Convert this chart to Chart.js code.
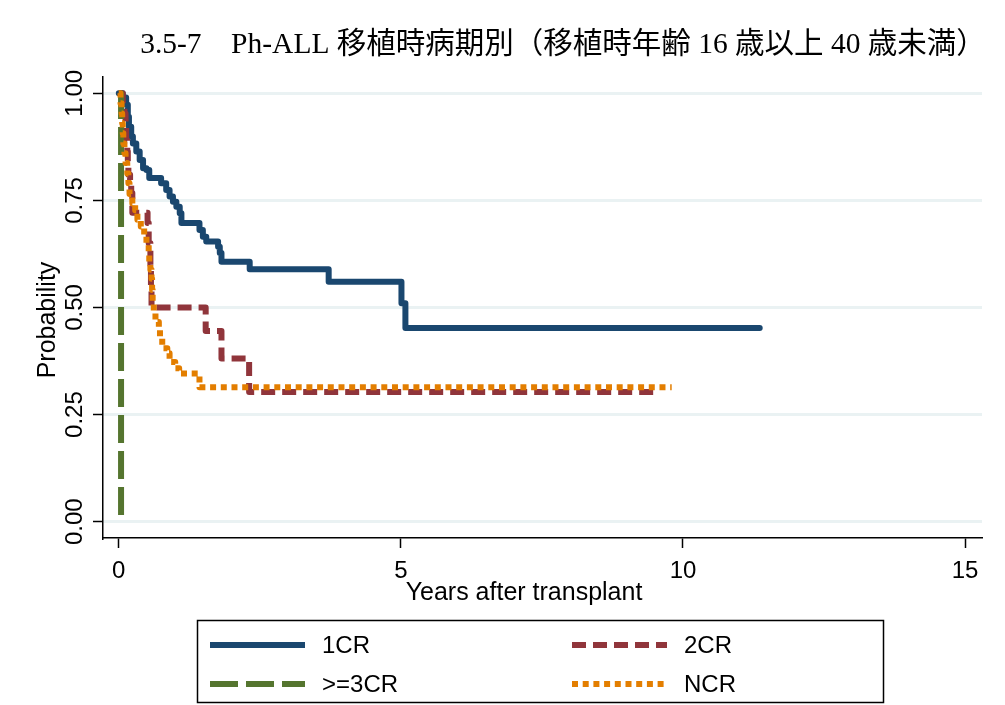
<!DOCTYPE html>
<html lang="ja">
<head>
  <meta charset="UTF-8" />
  <title>Ph-ALL 移植時病期別</title>
  <script src="https://cdn.jsdelivr.net/npm/chart.js"></script>
  <style>
    body {
      margin: 0;
      background: #fff;
    }
    #wrap {
      width: 1005px;
      height: 705px;
    }
  </style>
</head>
<body>
  <div id="wrap"><canvas id="km" width="1005" height="705"></canvas></div>

  <script>
    // axis ticks
    const xTicks = [0, 5, 10, 15];
    const yTicks = [0, 0.25, 0.5, 0.75, 1];
    const yTickLabels = ['0.00', '0.25', '0.50', '0.75', '1.00'];

    const seriesNames = ['1CR', '2CR', '>=3CR', 'NCR'];

    // Kaplan-Meier steps: time (years) and survival after each step
    const cr1Time = [0, 0.07, 0.13, 0.16, 0.18, 0.22, 0.25, 0.31, 0.37, 0.43, 0.49, 0.54, 0.75, 0.84, 0.90, 0.96, 1.02, 1.08, 1.11, 1.43, 1.49, 1.55, 1.76, 1.79, 1.82, 2.32, 3.72, 5.01, 5.08, 11.36];
    const cr1Surv = [1, 0.99, 0.973, 0.945, 0.922, 0.899, 0.883, 0.864, 0.844, 0.825, 0.821, 0.802, 0.79, 0.774, 0.759, 0.747, 0.735, 0.72, 0.697, 0.681, 0.665, 0.654, 0.642, 0.627, 0.607, 0.589, 0.56, 0.51, 0.452, 0.452];

    const cr2Time = [0, 0.07, 0.10, 0.12, 0.13, 0.15, 0.16, 0.17, 0.20, 0.22, 0.24, 0.51, 0.53, 0.56, 0.57, 0.58, 1.54, 1.82, 2.31, 9.54];
    const cr2Surv = [1, 0.977, 0.953, 0.93, 0.89, 0.864, 0.84, 0.81, 0.79, 0.767, 0.721, 0.697, 0.65, 0.6, 0.55, 0.5, 0.445, 0.381, 0.303, 0.303];

    const cr3Time = [0, 0.04];
    const cr3Surv = [1, 0];

    const ncrTime = [0, 0.03, 0.05, 0.06, 0.07, 0.08, 0.10, 0.12, 0.15, 0.17, 0.19, 0.24, 0.29, 0.33, 0.39, 0.45, 0.49, 0.53, 0.54, 0.56, 0.58, 0.59, 0.60, 0.62, 0.65, 0.71, 0.73, 0.77, 0.86, 0.90, 1.00, 1.07, 1.43, 9.80];
    const ncrSurv = [1, 0.977, 0.953, 0.93, 0.907, 0.883, 0.86, 0.837, 0.813, 0.79, 0.765, 0.743, 0.727, 0.705, 0.689, 0.666, 0.646, 0.628, 0.607, 0.588, 0.567, 0.541, 0.514, 0.49, 0.466, 0.449, 0.428, 0.405, 0.393, 0.373, 0.358, 0.346, 0.314, 0.314];

    const colors = ['#1a476f', '#90353b', '#55752f', '#e37e00'];
    const dashes = [[], [14, 7], [28, 8], [6, 4.7]];

    const sans = '"Liberation Sans", Arial, sans-serif';

    function toPoints(t, s) {
      return t.map((v, i) => ({ x: v, y: s[i] }));
    }

    const curves = [
      toPoints(cr1Time, cr1Surv),
      toPoints(cr2Time, cr2Surv),
      toPoints(cr3Time, cr3Surv),
      toPoints(ncrTime, ncrSurv)
    ];

    // 'before' keeps the previous level until the event time, then drops
    const datasets = curves.map((pts, i) => ({
      label: seriesNames[i],
      data: pts,
      borderColor: colors[i],
      borderWidth: 6,
      borderDash: dashes[i],
      borderCapStyle: i === 0 ? 'round' : 'butt',
      borderJoinStyle: 'round',
      stepped: 'before',
      pointRadius: 0,
      fill: false,
      order: 4 - i
    }));

    // title, rotated y labels, axis titles and the boxed legend
    const frame = {
      id: 'frame',
      afterDraw(chart) {
        const c = chart.ctx;
        const xs = chart.scales.x;
        const ys = chart.scales.y;
        c.save();
        c.fillStyle = '#000';

        c.font = '29.5px "Liberation Serif", "Noto Sans CJK JP", serif';
        c.textAlign = 'center';
        c.textBaseline = 'middle';
        c.fillText('3.5-7\u3000Ph-ALL 移植時病期別（移植時年齢 16 歳以上 40 歳未満）', 563, 45);

        c.font = '24px ' + sans;
        yTicks.forEach((v, i) => {
          c.save();
          c.translate(75, ys.getPixelForValue(v));
          c.rotate(-Math.PI / 2);
          c.fillText(yTickLabels[i], 0, 0);
          c.restore();
        });
        xTicks.forEach(v => {
          c.fillText(String(v), xs.getPixelForValue(v), 571);
        });

        c.font = '25px ' + sans;
        c.save();
        c.translate(48, 320);
        c.rotate(-Math.PI / 2);
        c.fillText('Probability', 0, 0);
        c.restore();
        c.fillText('Years after transplant', 524, 593);

        // legend
        c.strokeStyle = '#000';
        c.lineWidth = 1.5;
        c.strokeRect(197.5, 620.5, 686, 82);
        const slots = [[210, 645], [572, 645], [210, 684], [572, 684]];
        c.font = '24px ' + sans;
        c.textAlign = 'left';
        datasets.forEach((d, i) => {
          const [lx, ly] = slots[i];
          c.beginPath();
          c.setLineDash(d.borderDash);
          c.lineCap = 'butt';
          c.lineWidth = d.borderWidth;
          c.strokeStyle = d.borderColor;
          c.moveTo(lx, ly);
          c.lineTo(lx + 95, ly);
          c.stroke();
          c.setLineDash([]);
          c.fillText(d.label, lx + 112, ly + 1);
        });
        c.restore();
      }
    };

    new Chart(document.getElementById('km'), {
      type: 'line',
      data: { datasets: datasets },
      options: {
        responsive: false,
        animation: false,
        layout: { padding: { top: 77, right: 23, left: 0, bottom: 0 } },
        plugins: {
          legend: { display: false },
          tooltip: { enabled: false }
        },
        scales: {
          x: {
            type: 'linear',
            min: -0.28,
            max: 15.3,
            afterBuildTicks: s => { s.ticks = xTicks.map(v => ({ value: v })); },
            afterFit: s => { s.height = 167; },
            ticks: { display: false },
            grid: {
              drawOnChartArea: false,
              drawTicks: true,
              tickLength: 10,
              tickColor: '#000',
              tickWidth: 1.5
            },
            border: { display: true, color: '#000', width: 1.5 }
          },
          y: {
            type: 'linear',
            min: -0.038,
            max: 1.038,
            afterBuildTicks: s => { s.ticks = yTicks.map(v => ({ value: v })); },
            afterFit: s => { s.width = 103; },
            ticks: { display: false },
            grid: {
              color: '#eaf2f3',
              lineWidth: 3,
              drawTicks: true,
              tickLength: 10,
              tickColor: '#000',
              tickWidth: 1.5
            },
            border: { display: true, color: '#000', width: 1.5 }
          }
        }
      },
      plugins: [frame]
    });
  </script>
</body>
</html>
